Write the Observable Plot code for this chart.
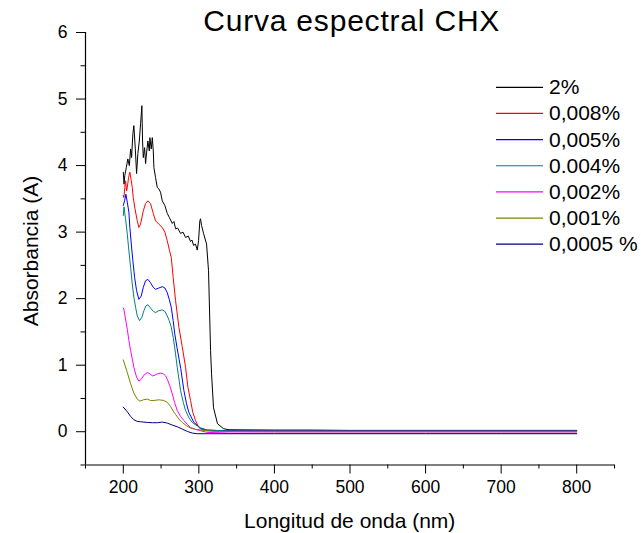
<!DOCTYPE html>
<html><head><meta charset="utf-8">
<script src="https://cdn.jsdelivr.net/npm/d3@7"></script>
<script src="https://cdn.jsdelivr.net/npm/@observablehq/plot@0.6"></script>
<style>
body{margin:0;background:#fff;}
#wrap{position:relative;width:641px;height:533px;font-family:'Liberation Sans',Arial,sans-serif;color:#000;overflow:hidden;}
.t{position:absolute;white-space:nowrap;line-height:1;}
</style></head><body><div id="wrap"></div>
<script>
const titleText = "Curva espectral CHX";
const xLabel = "Longitud de onda (nm)";
const yLabel = "Absorbancia (A)";

const labels = ["2%", "0,008%", "0,005%", "0.004%", "0,002%", "0,001%", "0,0005 %"];
const colors = ["#000000", "#ff0000", "#0000ff", "#008080", "#ff00ff", "#808000", "#000080"];

const xDomain = [150, 850];
const yDomain = [-0.5, 6];
const xMajor = [200, 300, 400, 500, 600, 700, 800];
const xMinor = [150, 250, 350, 450, 550, 650, 750, 850];
const yMajor = [0, 1, 2, 3, 4, 5, 6];
const yMinor = [-0.5, 0.5, 1.5, 2.5, 3.5, 4.5, 5.5];

// 2%
const nm2 = [200, 201, 202, 204, 206, 208, 209.7, 211, 212.7, 214, 215.9, 217.6, 219.3, 221.2, 222.9, 224.6, 225.5, 226.5, 228.2, 229.5, 230.8, 232.5, 234.4, 235.2, 237, 238.4, 239.7, 240.5, 242.7, 245, 247, 249.3, 251.6, 255, 258.2, 261, 264.8, 267, 269.2, 272, 275.8, 279, 282.4, 286, 289, 291, 293, 295.5, 297.9, 299.6, 301.3, 302.2, 303.6, 306.2, 310.2, 312.8, 315.5, 316.8, 319.4, 324.7, 332.7, 340, 400, 450, 500, 550, 600, 650, 700, 750, 800];
const abs2 = [3.90, 3.72, 3.85, 3.97, 4.10, 4.00, 4.25, 4.12, 4.48, 4.60, 4.25, 3.88, 4.18, 4.37, 4.63, 4.90, 4.37, 4.12, 4.27, 4.03, 4.19, 4.37, 4.22, 4.42, 4.25, 4.42, 4.22, 3.97, 3.82, 3.67, 3.65, 3.60, 3.47, 3.40, 3.28, 3.22, 3.13, 3.16, 3.05, 3.06, 2.98, 3.00, 2.92, 2.94, 2.86, 2.88, 2.80, 2.82, 2.73, 2.87, 3.17, 3.20, 3.10, 2.98, 2.82, 2.42, 1.22, 0.87, 0.36, 0.12, 0.045, 0.03, 0.025, 0.025, 0.02, 0.02, 0.02, 0.02, 0.02, 0.02, 0.02];
// 0,008%
const nm008 = [200, 200.8, 202, 203, 204.4, 205.3, 207, 208.7, 210.6, 211.9, 213.2, 215.5, 218.5, 220.6, 222.9, 226.5, 229.5, 232.5, 236, 239.7, 242.7, 247, 251.6, 255, 258.2, 261.2, 263.5, 266, 269.2, 273.6, 278, 282.4, 285.5, 289, 292, 295.6, 298.7, 302.2, 311, 340, 400, 500, 600, 700, 800];
const abs008 = [3.55, 3.52, 3.67, 3.77, 3.62, 3.67, 3.82, 3.90, 3.77, 3.67, 3.52, 3.35, 3.17, 3.07, 3.12, 3.32, 3.43, 3.47, 3.43, 3.28, 3.17, 3.12, 3.07, 3.00, 2.87, 2.72, 2.62, 2.32, 1.97, 1.57, 1.28, 0.97, 0.67, 0.47, 0.29, 0.17, 0.09, 0.04, 0.015, 0.015, 0.015, 0.015, 0.015, 0.015, 0.015];
// 0,005%
const nm005 = [200, 201.7, 203.5, 205.3, 207.4, 208.7, 210.6, 212.7, 215, 217.6, 220.6, 223.8, 226.5, 229.5, 232.5, 236, 239.7, 242.7, 247, 251.6, 255, 258.2, 260.8, 263.5, 266, 268, 271, 274, 276, 280.2, 283.7, 286.8, 293.4, 302.2, 311, 340, 400, 500, 600, 700, 800];
const abs005 = [3.40, 3.47, 3.57, 3.45, 3.30, 3.07, 2.82, 2.57, 2.32, 2.12, 1.99, 2.04, 2.17, 2.27, 2.29, 2.24, 2.17, 2.14, 2.16, 2.18, 2.16, 2.09, 1.99, 1.87, 1.67, 1.48, 1.27, 1.08, 0.95, 0.62, 0.42, 0.29, 0.14, 0.055, 0.025, 0.012, 0.012, 0.012, 0.012, 0.012, 0.012];
// 0.004%
const nm004 = [200, 201, 202, 203, 205.3, 207.4, 209.7, 211.9, 214, 216.3, 218.5, 221.6, 224.6, 227.3, 229.9, 232.5, 236, 239.7, 242.7, 247, 251.6, 255, 258.2, 260.8, 263.5, 266, 268, 271.4, 275.8, 279.4, 282.4, 286.8, 291.2, 302.2, 311, 340, 400, 500, 600, 700, 800];
const abs004 = [3.25, 3.38, 3.28, 3.20, 2.97, 2.72, 2.47, 2.22, 2.02, 1.87, 1.74, 1.67, 1.72, 1.82, 1.89, 1.91, 1.86, 1.81, 1.79, 1.82, 1.83, 1.81, 1.74, 1.67, 1.57, 1.42, 1.27, 0.97, 0.62, 0.44, 0.32, 0.21, 0.14, 0.055, 0.025, 0.01, 0.01, 0.01, 0.01, 0.01, 0.01];
// 0,002%
const nm002 = [200, 200.8, 205.3, 207.4, 209.7, 210.6, 214, 217.6, 220.6, 223.8, 227.3, 231.7, 235.2, 238.4, 241.8, 245, 249.3, 252.9, 256, 258.2, 261.6, 264.8, 267.9, 271.4, 275.8, 280.2, 284.7, 289, 295.6, 302.2, 311, 340, 400, 500, 600, 700, 800];
const abs002 = [1.86, 1.84, 1.54, 1.37, 1.22, 1.17, 0.97, 0.82, 0.76, 0.79, 0.85, 0.89, 0.87, 0.84, 0.85, 0.87, 0.88, 0.87, 0.84, 0.79, 0.69, 0.57, 0.44, 0.32, 0.23, 0.17, 0.11, 0.065, 0.035, 0.015, -0.01, -0.02, -0.02, -0.02, -0.02, -0.02, -0.02];
// 0,001%
const nm001 = [200, 205.3, 209.7, 214, 218.5, 222, 226.5, 231.7, 236, 240.5, 247, 253.7, 258.2, 262.6, 266, 269.2, 273.6, 278, 283.7, 289, 295.6, 302.2, 320, 400, 500, 600, 700, 800];
const abs001 = [1.08, 0.89, 0.72, 0.58, 0.49, 0.46, 0.48, 0.49, 0.47, 0.47, 0.48, 0.47, 0.44, 0.38, 0.31, 0.26, 0.19, 0.14, 0.09, 0.055, 0.035, 0.025, 0.005, 0.0, 0.0, 0.0, 0.0, 0.0];
// 0,0005 %
const nm0005 = [200, 205.3, 209.7, 214, 218.5, 222.9, 227.3, 231.7, 238.4, 245, 251.6, 258.2, 264.8, 271.4, 278, 284.7, 291.2, 297.9, 320, 400, 500, 600, 700, 800];
const abs0005 = [0.37, 0.30, 0.23, 0.18, 0.155, 0.15, 0.145, 0.14, 0.135, 0.135, 0.145, 0.13, 0.10, 0.075, 0.04, 0.005, -0.02, -0.03, -0.03, -0.03, -0.03, -0.03, -0.03, -0.03];

const seriesX = [nm2, nm008, nm005, nm004, nm002, nm001, nm0005];
const seriesY = [abs2, abs008, abs005, abs004, abs002, abs001, abs0005];

const rows = labels.flatMap((s, i) => seriesX[i].map((x, j) => ({series: s, nm: x, A: seriesY[i][j]})));

const wrap = document.getElementById("wrap");

const chart = Plot.plot({
  width: 641, height: 533,
  marginLeft: 85, marginRight: 27, marginTop: 32, marginBottom: 68.5,
  style: {fontFamily: "'Liberation Sans', Arial, sans-serif", fontSize: "17.5px", color: "#000", background: "transparent", overflow: "visible"},
  x: {domain: xDomain, label: null},
  y: {domain: yDomain, label: null},
  color: {domain: labels, range: colors},
  marks: [
    Plot.axisX({ticks: xMinor, tickSize: 4, tickFormat: () => "", label: null}),
    Plot.axisX({ticks: xMajor, tickSize: 9, tickPadding: 7, tickFormat: d => String(d), label: null}),
    Plot.axisY({ticks: yMinor, tickSize: 4.5, tickFormat: () => "", label: null}),
    Plot.axisY({ticks: yMajor, tickSize: 9, tickPadding: 9, tickFormat: d => String(d), label: null}),
    Plot.ruleY([yDomain[0]], {stroke: "#000", strokeWidth: 1.2}),
    Plot.ruleX([xDomain[0]], {stroke: "#000", strokeWidth: 1.2}),
    Plot.line(rows, {x: "nm", y: "A", z: "series", stroke: "series", strokeWidth: 1})
  ]
});
chart.style.position = "absolute";
chart.style.left = "0px";
chart.style.top = "0px";
wrap.appendChild(chart);

function addText(txt, css) {
  const d = document.createElement("div");
  d.className = "t";
  d.textContent = txt;
  Object.assign(d.style, css);
  wrap.appendChild(d);
  return d;
}

addText(titleText, {left: "351.7px", top: "6.3px", fontSize: "30px", letterSpacing: "0.8px", transform: "translateX(-50%)"});
addText(xLabel, {left: "349.7px", top: "509.9px", fontSize: "21px", transform: "translateX(-50%)"});
addText(yLabel, {left: "30px", top: "251px", fontSize: "21px", lineHeight: "21px", transform: "translate(-50%,-50%) rotate(-90deg)"});

// legend: swatch lines in a small SVG overlay
const ns = "http://www.w3.org/2000/svg";
const lg = document.createElementNS(ns, "svg");
lg.setAttribute("width", "60");
lg.setAttribute("height", "200");
Object.assign(lg.style, {position: "absolute", left: "490px", top: "70px", overflow: "visible"});
wrap.appendChild(lg);
labels.forEach((lab, i) => {
  const cy = 87.3 + i * 26.15;
  const ln = document.createElementNS(ns, "line");
  ln.setAttribute("x1", "6");
  ln.setAttribute("x2", "53");
  ln.setAttribute("y1", String(cy - 70));
  ln.setAttribute("y2", String(cy - 70));
  ln.setAttribute("stroke", colors[i]);
  ln.setAttribute("stroke-width", "1.2");
  lg.appendChild(ln);
  addText(lab, {left: "549px", top: (cy - 13) + "px", fontSize: "21px", lineHeight: "26px"});
});
</script></body></html>
